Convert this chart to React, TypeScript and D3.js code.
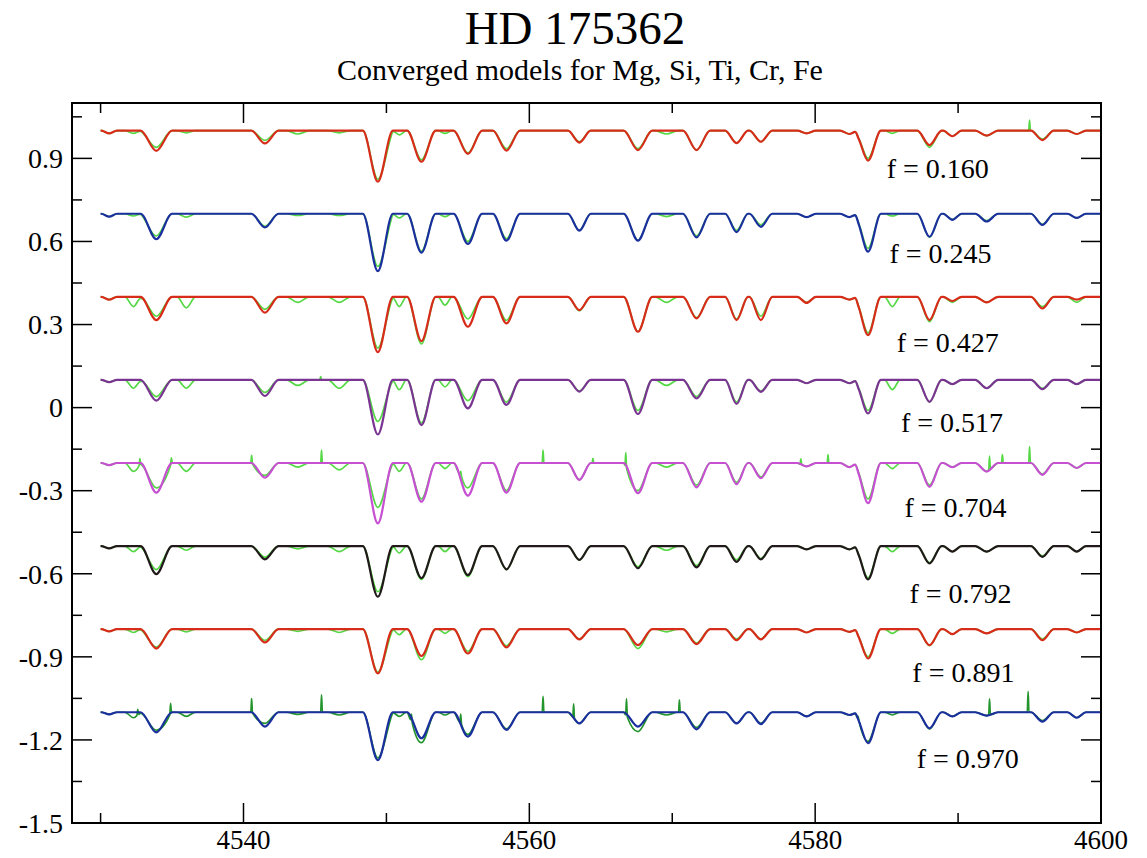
import React from "react";
import * as d3 from "d3";

// ---------- axes ----------
const xDomain: [number, number] = [4528, 4600];
const yDomain: [number, number] = [-1.5, 1.1];
const xMajorTicks = [4540, 4560, 4580, 4600];
const xMinorTicks = [4530, 4550, 4570, 4590];
const yMajorTicks = [0.9, 0.6, 0.3, 0, -0.3, -0.6, -0.9, -1.2, -1.5];
const yMajorLabels = ["0.9", "0.6", "0.3", "0", "-0.3", "-0.6", "-0.9", "-1.2", "-1.5"];
const yMinorTicks = [1.05, 0.75, 0.45, 0.15, -0.15, -0.45, -0.75, -1.05, -1.35];
const spectrumRange: [number, number] = [4530, 4600];

// ---------- spectra ----------
const phaseLabels = ["0.160", "0.245", "0.427", "0.517", "0.704", "0.792", "0.891", "0.970"];
const continuumLevels = [1.0, 0.7, 0.4, 0.1, -0.2, -0.5, -0.8, -1.1];
const modelColors = ["#d82c1a", "#1b2f9e", "#d82c1a", "#7a3592", "#c64fd2", "#221a1a", "#d82c1a", "#1b2f9e"];
const observedColors = ["#55d845", "#55d845", "#55d845", "#55d845", "#55d845", "#55d845", "#55d845", "#23952c"];

// absorption lines shared by models and observations (Å)
const lineCenters = [4530.6, 4533.9, 4541.5, 4549.4, 4552.45, 4555.7, 4558.4, 4563.5, 4567.6, 4571.7,
  4574.5, 4576.2, 4579.4, 4582.4, 4583.7, 4588.0, 4589.6, 4592.0, 4595.9, 4598.3];
const lineHalfWidths = [0.55, 1.1, 0.95, 1.05, 1.0, 1.0, 0.95, 0.8, 1.0, 0.95,
  0.8, 0.8, 0.65, 0.65, 0.9, 0.85, 0.65, 0.8, 0.8, 0.65];

// model line depths per phase
const modelDepth160 = [0.01, 0.073, 0.046, 0.184, 0.112, 0.084, 0.072, 0.043, 0.07, 0.07, 0.045, 0.04, 0.01, 0.012, 0.108, 0.052, 0.02, 0.018, 0.034, 0.012];
const modelDepth245 = [0.01, 0.092, 0.049, 0.207, 0.14, 0.109, 0.097, 0.061, 0.097, 0.085, 0.066, 0.047, 0.012, 0.012, 0.137, 0.083, 0.022, 0.028, 0.04, 0.015];
const modelDepth427 = [0.01, 0.084, 0.057, 0.2, 0.16, 0.108, 0.096, 0.048, 0.126, 0.078, 0.084, 0.084, 0.022, 0.01, 0.138, 0.084, 0.015, 0.02, 0.042, 0.01];
const modelDepth517 = [0.008, 0.075, 0.058, 0.197, 0.163, 0.103, 0.09, 0.042, 0.123, 0.067, 0.087, 0.043, 0.012, 0.012, 0.121, 0.079, 0.015, 0.03, 0.033, 0.015];
const modelDepth704 = [0.008, 0.107, 0.053, 0.218, 0.14, 0.118, 0.107, 0.061, 0.109, 0.088, 0.076, 0.055, 0.012, 0.015, 0.145, 0.086, 0.015, 0.031, 0.043, 0.018];
const modelDepth792 = [0.008, 0.101, 0.048, 0.183, 0.116, 0.105, 0.084, 0.05, 0.08, 0.077, 0.057, 0.048, 0.012, 0.012, 0.12, 0.063, 0.02, 0.02, 0.039, 0.02];
const modelDepth891 = [0.008, 0.07, 0.048, 0.16, 0.097, 0.088, 0.066, 0.037, 0.058, 0.054, 0.04, 0.037, 0.012, 0.01, 0.106, 0.058, 0.018, 0.015, 0.04, 0.012];
const modelDepth970 = [0.008, 0.073, 0.052, 0.173, 0.094, 0.088, 0.064, 0.04, 0.052, 0.062, 0.04, 0.043, 0.015, 0.01, 0.112, 0.058, 0.015, 0.012, 0.034, 0.02];

// observed line depths per phase
const obsDepth160 = [0.01, 0.06, 0.035, 0.175, 0.105, 0.08, 0.065, 0.04, 0.065, 0.07, 0.045, 0.04, 0.01, 0.012, 0.1, 0.06, 0.02, 0.018, 0.03, 0.012];
const obsDepth245 = [0.01, 0.08, 0.045, 0.19, 0.135, 0.1, 0.09, 0.06, 0.095, 0.08, 0.06, 0.04, 0.012, 0.012, 0.125, 0.085, 0.02, 0.025, 0.038, 0.015];
const obsDepth427 = [0.01, 0.07, 0.045, 0.185, 0.17, 0.08, 0.085, 0.05, 0.125, 0.075, 0.08, 0.07, 0.02, 0.01, 0.13, 0.09, 0.02, 0.02, 0.035, 0.02];
const obsDepth517 = [0.008, 0.06, 0.045, 0.15, 0.155, 0.075, 0.08, 0.04, 0.11, 0.06, 0.08, 0.04, 0.012, 0.012, 0.11, 0.08, 0.015, 0.03, 0.03, 0.015];
const obsDepth704 = [0.008, 0.09, 0.045, 0.16, 0.13, 0.09, 0.1, 0.06, 0.1, 0.08, 0.07, 0.05, 0.012, 0.015, 0.13, 0.08, 0.015, 0.03, 0.04, 0.018];
const obsDepth792 = [0.008, 0.085, 0.04, 0.165, 0.12, 0.11, 0.085, 0.05, 0.075, 0.07, 0.05, 0.045, 0.012, 0.012, 0.115, 0.06, 0.02, 0.02, 0.035, 0.02];
const obsDepth891 = [0.008, 0.065, 0.04, 0.155, 0.11, 0.08, 0.06, 0.035, 0.07, 0.05, 0.035, 0.035, 0.012, 0.01, 0.1, 0.06, 0.018, 0.015, 0.035, 0.012];
const obsDepth970 = [0.008, 0.065, 0.04, 0.165, 0.11, 0.08, 0.06, 0.04, 0.07, 0.055, 0.04, 0.04, 0.015, 0.01, 0.105, 0.06, 0.015, 0.012, 0.03, 0.02];

// features only seen in the observed spectra
const obsDipCenters = [4532.3, 4536.0, 4543.8, 4546.7, 4550.9, 4554.1, 4569.6, 4585.4];
const obsDipHalfWidths = [0.6, 0.65, 0.8, 0.8, 0.5, 0.5, 0.8, 0.55];
const obsDip160 = [0.01, 0.008, 0.012, 0.008, 0.015, 0.01, 0.012, 0.01];
const obsDip245 = [0.008, 0.012, 0.006, 0.006, 0.015, 0.01, 0.01, 0.008];
const obsDip427 = [0.035, 0.04, 0.02, 0.02, 0.035, 0.03, 0.02, 0.035];
const obsDip517 = [0.03, 0.03, 0.02, 0.03, 0.035, 0.025, 0.02, 0.035];
const obsDip704 = [0.03, 0.03, 0.015, 0.025, 0.03, 0.02, 0.015, 0.02];
const obsDip792 = [0.02, 0.015, 0.01, 0.02, 0.025, 0.02, 0.015, 0.02];
const obsDip891 = [0.012, 0.01, 0.008, 0.012, 0.02, 0.015, 0.01, 0.015];
const obsDip970 = [0.02, 0.015, 0.008, 0.01, 0.015, 0.01, 0.01, 0.01];

// narrow emission spikes in the observed spectra: [wavelength, height]
const spikes160: [number, number][] = [[4595.0, 0.038]];
const spikes245: [number, number][] = [];
const spikes427: [number, number][] = [];
const spikes517: [number, number][] = [[4545.4, 0.012]];
const spikes704: [number, number][] = [[4532.75, 0.023], [4534.95, 0.023], [4540.57, 0.029], [4545.46, 0.047], [4555.2, 0.015],
  [4560.96, 0.047], [4564.45, 0.017], [4566.75, 0.053], [4579.0, 0.02], [4580.9, 0.03], [4592.2, 0.047], [4593.1, 0.03], [4595.0, 0.059]];
const spikes792: [number, number][] = [];
const spikes891: [number, number][] = [];
const spikes970: [number, number][] = [[4532.6, 0.02], [4534.9, 0.038], [4540.57, 0.05], [4545.46, 0.063], [4551.75, 0.026],
  [4555.2, 0.033], [4560.96, 0.057], [4563.1, 0.05], [4566.8, 0.063], [4570.5, 0.045], [4583.0, 0.01], [4592.2, 0.057], [4594.9, 0.075]];

const modelDepths = [modelDepth160, modelDepth245, modelDepth427, modelDepth517, modelDepth704, modelDepth792, modelDepth891, modelDepth970];
const obsDepths = [obsDepth160, obsDepth245, obsDepth427, obsDepth517, obsDepth704, obsDepth792, obsDepth891, obsDepth970];
const obsDips = [obsDip160, obsDip245, obsDip427, obsDip517, obsDip704, obsDip792, obsDip891, obsDip970];
const obsSpikes = [spikes160, spikes245, spikes427, spikes517, spikes704, spikes792, spikes891, spikes970];

// phase label anchors (wavelength, flux)
const labelLambda = [4585.0, 4585.2, 4585.7, 4586.0, 4586.25, 4586.6, 4586.8, 4587.1];
const labelFlux = [0.829, 0.522, 0.201, -0.088, -0.395, -0.706, -0.991, -1.302];

type Feature = { c: number; w: number; d: number };

function buildSpectrum(cont: number, features: Feature[]): [number, number][] {
  const keys = new Set<number>([spectrumRange[0], spectrumRange[1]]);
  features.forEach((f) => {
    [f.c - f.w, f.c, f.c + f.w].forEach((k) => {
      if (k >= spectrumRange[0] && k <= spectrumRange[1]) keys.add(+k.toFixed(4));
    });
  });
  const xs = Array.from(keys).sort((a, b) => a - b);
  return xs.map((lam) => {
    let v = cont;
    features.forEach((f) => {
      const dist = Math.abs(lam - f.c);
      if (dist < f.w) v -= f.d * (1 - dist / f.w);
    });
    return [lam, v];
  });
}

const FONT = "'Liberation Serif', 'Times New Roman', Times, serif";

export default function App() {
  const left = 72, right = 1101, top = 103, bottom = 823;
  const x = d3.scaleLinear().domain(xDomain).range([left, right]);
  const y = d3.scaleLinear().domain(yDomain).range([bottom, top]);
  const line = d3
    .line<[number, number]>()
    .x((d) => x(d[0]))
    .y((d) => y(d[1]))
    .curve(d3.curveMonotoneX);

  const spectra = phaseLabels.map((_, i) => {
    const cont = continuumLevels[i];
    const modelFeatures: Feature[] = lineCenters.map((c, j) => ({ c, w: lineHalfWidths[j], d: modelDepths[i][j] }));
    const obsFeatures: Feature[] = [
      ...lineCenters.map((c, j) => ({ c, w: lineHalfWidths[j], d: obsDepths[i][j] })),
      ...obsDipCenters.map((c, j) => ({ c, w: obsDipHalfWidths[j], d: obsDips[i][j] })),
      ...obsSpikes[i].map(([c, h]) => ({ c, w: 0.06, d: -h })),
    ];
    return {
      model: buildSpectrum(cont, modelFeatures),
      obs: buildSpectrum(cont, obsFeatures),
    };
  });

  return (
    <svg
      width={1147}
      height={858}
      style={{ position: "absolute", left: 0, top: 0, background: "#fff" }}
    >
      <rect x={0} y={0} width={1147} height={858} fill="#fff" />
      <defs>
        <clipPath id="plotClip">
          <rect x={left} y={top} width={right - left} height={bottom - top} />
        </clipPath>
      </defs>

      <text x={575} y={44} textAnchor="middle" fontSize={47} fill="#000" style={{ fontFamily: FONT }}>HD 175362</text>
      <text x={580} y={80} textAnchor="middle" fontSize={30} fill="#000" style={{ fontFamily: FONT }}>Converged models for Mg, Si, Ti, Cr, Fe</text>

      <g clipPath="url(#plotClip)">
        {spectra.map((s, i) => (
          <g key={i}>
            <path d={line(s.obs) || ""} fill="none" stroke={observedColors[i]} strokeWidth={1.7} strokeLinejoin="round" />
            <path d={line(s.model) || ""} fill="none" stroke={modelColors[i]} strokeWidth={2.2} strokeLinejoin="round" />
          </g>
        ))}
      </g>

      {phaseLabels.map((p, i) => (
        <text key={p} x={x(labelLambda[i])} y={y(labelFlux[i])} fontSize={28} fill="#000" style={{ fontFamily: FONT }}>
          {"f = " + p}
        </text>
      ))}

      {/* ticks */}
      <g stroke="#000" strokeWidth={1.5}>
        {xMajorTicks.map((t) => (
          <g key={"xM" + t}>
            <line x1={x(t)} x2={x(t)} y1={bottom} y2={bottom - 20} />
            <line x1={x(t)} x2={x(t)} y1={top} y2={top + 20} />
          </g>
        ))}
        {xMinorTicks.map((t) => (
          <g key={"xm" + t}>
            <line x1={x(t)} x2={x(t)} y1={bottom} y2={bottom - 10} />
            <line x1={x(t)} x2={x(t)} y1={top} y2={top + 10} />
          </g>
        ))}
        {yMajorTicks.map((t) => (
          <g key={"yM" + t}>
            <line x1={left} x2={left + 20} y1={y(t)} y2={y(t)} />
            <line x1={right} x2={right - 20} y1={y(t)} y2={y(t)} />
          </g>
        ))}
        {yMinorTicks.map((t) => (
          <g key={"ym" + t}>
            <line x1={left} x2={left + 10} y1={y(t)} y2={y(t)} />
            <line x1={right} x2={right - 10} y1={y(t)} y2={y(t)} />
          </g>
        ))}
      </g>

      <rect x={left} y={top} width={right - left} height={bottom - top} fill="none" stroke="#000" strokeWidth={2} />

      {xMajorTicks.map((t) => (
        <text key={"xl" + t} x={x(t)} y={849} textAnchor="middle" fontSize={27} fill="#000" style={{ fontFamily: FONT }}>
          {t}
        </text>
      ))}
      {yMajorTicks.map((t, i) => (
        <text key={"yl" + t} x={63} y={y(t)} dy="0.35em" textAnchor="end" fontSize={28} fill="#000" style={{ fontFamily: FONT }}>
          {yMajorLabels[i]}
        </text>
      ))}
    </svg>
  );
}
